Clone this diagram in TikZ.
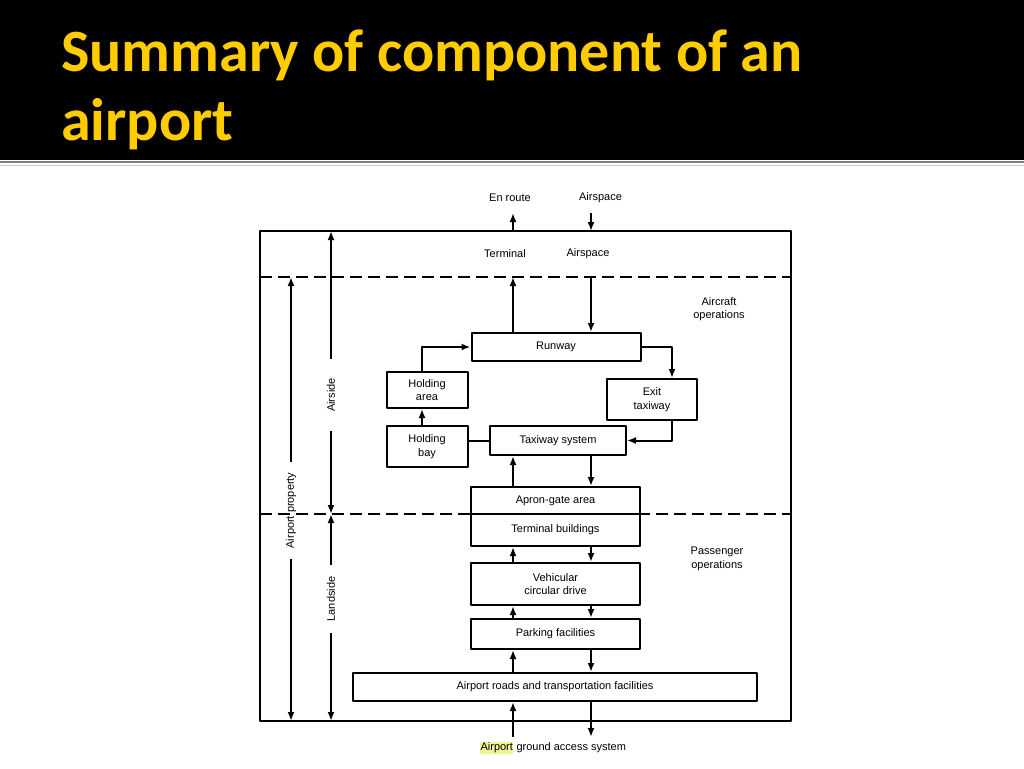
\documentclass[tikz,border=0pt]{standalone}
\usepackage{fontspec}
\usetikzlibrary{arrows.meta}
\newfontfamily\titlefont{Carlito}
\newfontfamily\boxfont{Liberation Sans}
\definecolor{titleyellow}{RGB}{255,204,0}
\definecolor{marker}{RGB}{240,244,150}
\begin{document}
\begin{tikzpicture}[x=1pt,y=-1pt,>={Latex[length=9pt,width=7pt]},line join=round,
	font=\boxfont\fontsize{11}{13.5}\selectfont,
	comp/.style={draw,line width=2pt,inner sep=0pt,align=center},
	link/.style={line width=2pt},
	zone/.style={line width=2pt,dash pattern=on 12pt off 6pt},
	side/.style={rotate=90,inner ysep=0pt},
	heading/.style={anchor=base west,inner sep=0pt,text=titleyellow,font=\titlefont\bfseries\fontsize{60}{68}\selectfont}]
	\useasboundingbox (0,0) rectangle (1024,768);
	\fill[white] (0,0) rectangle (1024,768);
	\fill[black] (0,0) rectangle (1024,159.5);
	\draw[black!50,line width=2pt] (0,161.5)--(1024,161.5);
	\draw[black!20,line width=1pt] (0,165)--(1024,165);
	\node[heading] (title1) at (61,71.7) {Summary of component of an};
	\node[heading] (title2) at (61,140) {airport};
	\coordinate (nw) at (260,231);
	\coordinate (se) at (791,721);
	\coordinate (air) at (260,277);
	\coordinate (land) at (260,514);
	\coordinate (lc) at (513,0);
	\coordinate (rc) at (591,0);
	\coordinate (hc) at (422,0);
	\coordinate (ec) at (672,0);
	\coordinate (out) at (0,213);
	\coordinate (in) at (0,737);
	\draw[link] (nw) rectangle (se);
	\draw[zone] (air)--(air -| se);
	\draw[zone] (land)--(land -| se);
	\node[comp,minimum width=169pt,minimum height=28pt] (runway) at (556,347) {Runway};
	\node[comp,minimum width=81pt,minimum height=36pt] (holdarea) at (427,390) {Holding\\area};
	\node[comp,minimum width=81pt,minimum height=41pt] (holdbay) at (427,446.5) {Holding\\bay};
	\node[comp,minimum width=90pt,minimum height=41pt] (exit) at (652,399.5) {Exit\\taxiway};
	\node[comp,minimum width=136pt,minimum height=29pt] (taxi) at (558,440.5) {Taxiway system};
	\node[comp,minimum width=169pt,minimum height=27pt] (apron) at (555.5,500.5) {Apron-gate area};
	\node[comp,minimum width=169pt,minimum height=32pt] (termb) at (555.5,530) {Terminal buildings};
	\node[comp,minimum width=169pt,minimum height=42pt] (vehic) at (555.5,584) {Vehicular\\circular drive};
	\node[comp,minimum width=169pt,minimum height=30pt] (park) at (555.5,634) {Parking facilities};
	\node[comp,minimum width=404pt,minimum height=28pt] (roads) at (555,687) {Airport roads and transportation facilities};
	\node (enroute) at (510,197.3) {En route};
	\node (airspout) at (600.5,197.5) {Airspace};
	\node (terml) at (505,253.3) {Terminal};
	\node (airspin) at (588,253.3) {Airspace};
	\node[align=center] (acops) at (719,309.3) {Aircraft\\operations};
	\node[align=center] (paxops) at (717,559) {Passenger\\operations};
	\node (ground) at (553,748) {\setlength{\fboxsep}{0.5pt}\colorbox{marker}{Airport} ground access system};
	\node[side,inner xsep=10pt] (propl) at (291,510.5) {Airport property};
	\node[side,inner xsep=19pt] (airl) at (331,395) {Airside};
	\node[side,inner xsep=11pt] (landl) at (331,599) {Landside};
	\draw[link,->] (lc |- nw)--(lc |- out);
	\draw[link,->] (rc |- out)--(rc |- nw);
	\draw[link,->] (runway.north -| lc)--(lc |- air);
	\draw[link,->] (rc |- air)--(runway.north -| rc);
	\draw[link,->] (holdarea.north -| hc) |- (runway.west);
	\draw[link,->] (holdbay.north -| hc)--(holdarea.south -| hc);
	\draw[link,->] (runway.east) -| (exit.north -| ec);
	\draw[link,->] (exit.south -| ec) |- (taxi.east);
	\draw[link] (holdbay.east |- taxi.west)--(taxi.west);
	\foreach \a/\b in {apron/taxi,vehic/termb,park/vehic,roads/park}{
		\draw[link,->] (\a.north -| lc)--(\b.south -| lc);
		\draw[link,->] (\b.south -| rc)--(\a.north -| rc);
	}
	\draw[link,->] (lc |- in)--(roads.south -| lc);
	\draw[link,->] (roads.south -| rc)--(rc |- in);
	\draw[link,->] (propl.east)--(propl |- air);
	\draw[link,->] (propl.west)--(propl |- se);
	\draw[link,->] (airl.east)--(airl |- nw);
	\draw[link,->] (airl.west)--(airl |- land);
	\draw[link,->] (landl.east)--(landl |- land);
	\draw[link,->] (landl.west)--(landl |- se);
\end{tikzpicture}
\end{document}
